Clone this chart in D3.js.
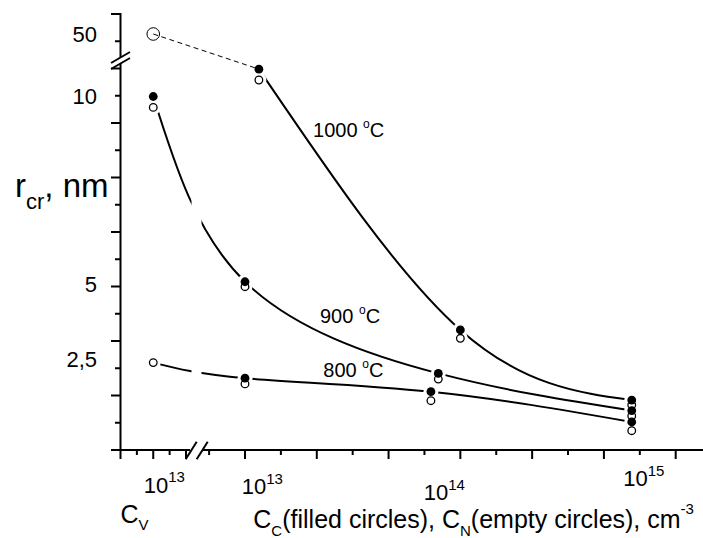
<!DOCTYPE html>
<html>
<head>
<meta charset="utf-8">
<script src="https://cdn.jsdelivr.net/npm/d3@7"></script>
<style>
body { margin: 0; background: #fff; }
svg { display: block; font-family: "Liberation Sans", Arial, sans-serif; }
</style>
</head>
<body>
<div id="chart"></div>
<script>
// concentration of vacancies (left part of the axis), cm^-3
var cv = 1e13;

// C_C / C_N concentrations, cm^-3
var conc1000 = [1.16e13, 1e14, 6.25e14];
var conc900 = [1e13, 7.9e13, 6.25e14];
var conc800 = [1e13, 7.3e13, 6.25e14];

// r_cr, nm - filled circles (C_C) and empty circles (C_N)
var r1000C = [10.73, 3.47, 1.13];
var r1000N = [10.44, 3.19, 0.97];
var r900C = [5.06, 2.02, 0.78];
var r900N = [4.91, 1.83, 0.60];
var r800C = [1.86, 1.41, 0.40];
var r800N = [1.67, 1.11, 0.11];

// r_cr at C_V
var rV1000 = 50;
var rV900C = 10.0;
var rV900N = 9.71;
var rV800 = 2.38;

var yTickLabels = ['50', '10', '5', '2,5'];
var yTickValues = [50, 10, 5, 2.5];
var xTickExp = [13, 14, 15];
var tempLabels = ['1000', '900', '800'];
var tempConc = [2.07e13, 2.23e13, 2.31e13];
var tempR = [8.93, 3.71, 1.89];

var width = 703, height = 538;
var axisY = 450, axisX = 120.5;

var svg = d3.select('#chart').append('svg')
  .attr('width', width)
  .attr('height', height);

// scales
var xV = d3.scaleLinear().domain([0, 2e13]).range([axisX, 186]);
var x = d3.scaleLog().domain([1e13, 1e15]).range([245, 675.7]);
var y = d3.scaleLinear().domain([2.5, 5, 10, 11, 50]).range([359, 284, 96.5, 59, 34]);
var grid = d3.scaleLinear().domain([0, 16]).range([axisY, 14]);

var line = d3.line().curve(d3.curveNatural);

function pts(conc, r) {
  return conc.map(function (c, i) { return [x(c), y(r[i])]; });
}

var curve1000 = pts(conc1000, r1000C);
var curve900 = [[xV(cv), y(rV900C)]].concat(pts(conc900, r900C));
var curve800 = [[xV(cv), y(rV800)]].concat(pts(conc800, r800C));

svg.selectAll('path.curve')
  .data([curve1000, curve900, curve800])
  .enter()
  .append('path')
  .attr('class', 'curve')
  .attr('d', line)
  .attr('fill', 'none')
  .attr('stroke', '#000')
  .attr('stroke-width', 2);

// gap where the x axis is broken
svg.append('rect')
  .attr('x', 191.5)
  .attr('y', 0)
  .attr('width', 10)
  .attr('height', axisY - 1)
  .attr('fill', '#fff');

// markers
var filled = [], empty = [];
conc1000.forEach(function (c, i) {
  filled.push([x(c), y(r1000C[i])]);
  empty.push([x(c), y(r1000N[i])]);
});
conc900.forEach(function (c, i) {
  filled.push([x(c), y(r900C[i])]);
  empty.push([x(c), y(r900N[i])]);
});
conc800.forEach(function (c, i) {
  filled.push([x(c), y(r800C[i])]);
  empty.push([x(c), y(r800N[i])]);
});
filled.push([xV(cv), y(rV900C)]);
empty.push([xV(cv), y(rV900N)]);
empty.push([xV(cv), y(rV800)]);

var all = filled.concat(empty);

svg.selectAll('circle.halo')
  .data(all)
  .enter()
  .append('circle')
  .attr('class', 'halo')
  .attr('cx', function (d) { return d[0]; })
  .attr('cy', function (d) { return d[1]; })
  .attr('r', 7.5)
  .attr('fill', '#fff');

svg.selectAll('circle.empty')
  .data(empty)
  .enter()
  .append('circle')
  .attr('class', 'empty')
  .attr('cx', function (d) { return d[0]; })
  .attr('cy', function (d) { return d[1]; })
  .attr('r', 3.8)
  .attr('fill', '#fff')
  .attr('stroke', '#000')
  .attr('stroke-width', 1.3);

svg.selectAll('circle.filled')
  .data(filled)
  .enter()
  .append('circle')
  .attr('class', 'filled')
  .attr('cx', function (d) { return d[0]; })
  .attr('cy', function (d) { return d[1]; })
  .attr('r', 4.4)
  .attr('fill', '#000');

// 1000 C at C_V, dashed link
svg.append('circle')
  .attr('cx', xV(cv))
  .attr('cy', y(rV1000))
  .attr('r', 6.3)
  .attr('fill', '#fff')
  .attr('stroke', '#000')
  .attr('stroke-width', 1);

svg.append('line')
  .attr('x1', xV(cv))
  .attr('y1', y(rV1000))
  .attr('x2', x(conc1000[0]))
  .attr('y2', y(r1000C[0]))
  .attr('stroke', '#000')
  .attr('stroke-width', 1)
  .attr('stroke-dasharray', '5,3.5');

// axes
var axes = svg.append('g').attr('stroke', '#000').attr('stroke-width', 2);

axes.append('line').attr('x1', axisX).attr('x2', axisX).attr('y1', grid(16) - 1).attr('y2', 57.5);
axes.append('line').attr('x1', axisX).attr('x2', axisX).attr('y1', 63.5).attr('y2', axisY);
axes.append('line').attr('x1', 111).attr('x2', 190).attr('y1', axisY).attr('y2', axisY);
axes.append('line').attr('x1', 203).attr('x2', width).attr('y1', axisY).attr('y2', axisY);

axes.selectAll('line.ytick')
  .data(d3.range(0, 17))
  .enter()
  .append('line')
  .attr('class', 'ytick')
  .attr('x1', function (d) { return axisX - (d % 2 === 0 ? 9.5 : 5.5); })
  .attr('x2', axisX)
  .attr('y1', function (d) { return grid(d); })
  .attr('y2', function (d) { return grid(d); });

axes.selectAll('line.vtick')
  .data(d3.range(0, 5))
  .enter()
  .append('line')
  .attr('class', 'vtick')
  .attr('x1', function (d) { return xV(d * 0.5e13); })
  .attr('x2', function (d) { return xV(d * 0.5e13); })
  .attr('y1', axisY)
  .attr('y2', function (d) { return axisY + (d % 2 === 0 ? 9 : 5); });

axes.selectAll('line.xtick')
  .data(d3.range(-1, 13))
  .enter()
  .append('line')
  .attr('class', 'xtick')
  .attr('x1', function (k) { return x(Math.pow(10, 13 + k / 6)); })
  .attr('x2', function (k) { return x(Math.pow(10, 13 + k / 6)); })
  .attr('y1', axisY)
  .attr('y2', function (k) { return axisY + (k % 2 === 0 ? 9 : 5); });

// axis breaks
axes.append('line').attr('x1', 111).attr('y1', 63).attr('x2', 130).attr('y2', 52);
axes.append('line').attr('x1', 111).attr('y1', 69).attr('x2', 130).attr('y2', 58);
axes.append('line').attr('x1', 185.7).attr('y1', 459.3).attr('x2', 196.7).attr('y2', 441.7);
axes.append('line').attr('x1', 196.7).attr('y1', 459.3).attr('x2', 207.7).attr('y2', 441.7);

// y tick labels
svg.selectAll('text.ylab')
  .data(yTickLabels)
  .enter()
  .append('text')
  .attr('class', 'ylab')
  .attr('x', 97)
  .attr('y', function (d, i) { return y(yTickValues[i]); })
  .attr('dy', '0.35em')
  .attr('text-anchor', 'end')
  .attr('font-size', 22)
  .text(function (d) { return d; });

// x tick labels
var xLabelDx = [-3.3, -36.7, -52.4];
var xLabelBase = [494, 500, 486];

var xlab = svg.selectAll('text.xlab')
  .data(xTickExp)
  .enter()
  .append('text')
  .attr('class', 'xlab')
  .attr('x', function (d, i) { return x(Math.pow(10, d)) + xLabelDx[i]; })
  .attr('y', function (d, i) { return xLabelBase[i]; })
  .attr('font-size', 22);
xlab.append('tspan').text('10');
xlab.append('tspan').attr('font-size', 15).attr('dy', -10).text(function (d) { return d; });

var vlab = svg.append('text')
  .attr('x', xV(cv) - 9.6)
  .attr('y', 492.7)
  .attr('font-size', 22);
vlab.append('tspan').text('10');
vlab.append('tspan').attr('font-size', 15).attr('dy', -11).text('13');

// C_V
var cvTitle = svg.append('text')
  .attr('x', axisX)
  .attr('y', 522.7)
  .attr('font-size', 25);
cvTitle.append('tspan').text('C');
cvTitle.append('tspan').attr('font-size', 15).attr('dy', 7.5).text('V');

// x title
var xTitle = svg.append('text')
  .attr('x', 253.3)
  .attr('y', 527.5)
  .attr('font-size', 25);
xTitle.append('tspan').text('C');
xTitle.append('tspan').attr('font-size', 15).attr('dy', 8.5).text('C');
xTitle.append('tspan').attr('dy', -8.5).text('(filled circles), C');
xTitle.append('tspan').attr('font-size', 15).attr('dy', 8.5).text('N');
xTitle.append('tspan').attr('dy', -8.5).text('(empty circles), cm');
xTitle.append('tspan').attr('font-size', 15).attr('dy', -14).text('-3');

// y title
var yTitle = svg.append('text')
  .attr('x', 15)
  .attr('y', 196.5)
  .attr('font-size', 33);
yTitle.append('tspan').text('r');
yTitle.append('tspan').attr('font-size', 22).attr('dy', 12.5).text('cr');
yTitle.append('tspan').attr('dy', -12.5).text(', nm');

// temperature labels
var tl = svg.selectAll('text.temp')
  .data(tempLabels)
  .enter()
  .append('text')
  .attr('class', 'temp')
  .attr('x', function (d, i) { return x(tempConc[i]); })
  .attr('y', function (d, i) { return y(tempR[i]); })
  .attr('font-size', 20);
tl.append('tspan').text(function (d) { return d + ' '; });
tl.append('tspan').attr('font-size', 12).attr('dy', -9).text('o');
tl.append('tspan').attr('dy', 9).text('C');
</script>
</body>
</html>
